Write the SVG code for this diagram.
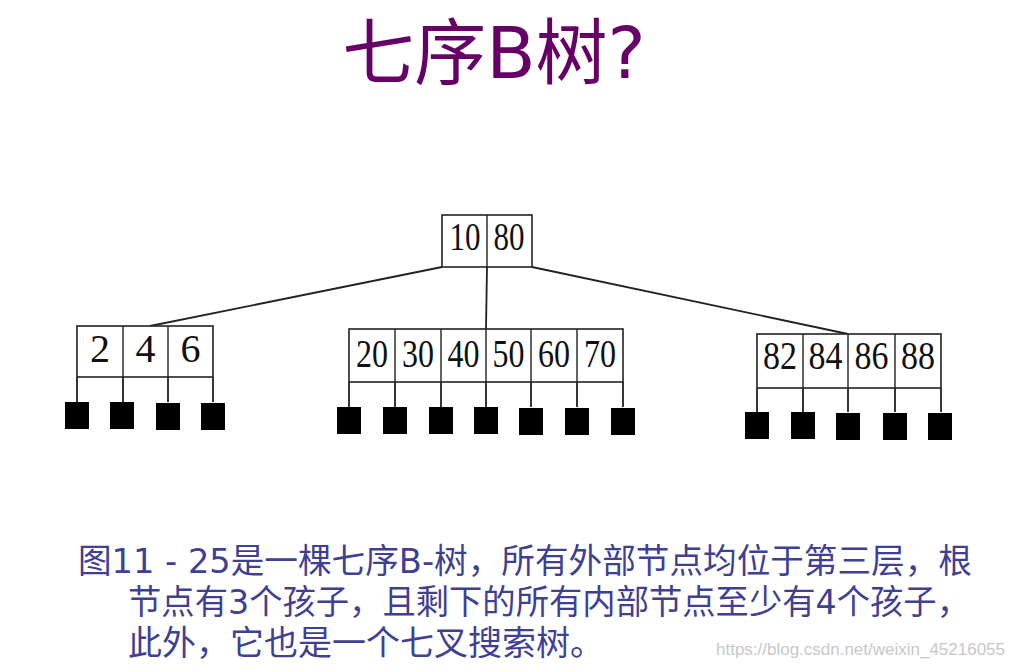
<svg xmlns="http://www.w3.org/2000/svg" width="1014" height="670" viewBox="0 0 1014 670">
<style>
.box{fill:#fff;stroke:#222;stroke-width:1.6}
.div{stroke:#222;stroke-width:1.4}
.num{font-family:"Liberation Serif",serif;font-size:40px;fill:#111;text-anchor:middle}
.leaf{fill:#000}
.edge{stroke:#222;stroke-width:1.8;fill:none}
.title{font-family:"DejaVu Sans","Noto Sans CJK SC",sans-serif;font-size:72px;fill:#660066;text-anchor:middle}
.cap{font-family:"DejaVu Sans","Noto Sans CJK SC",sans-serif;font-size:34px;fill:#3f3f94}
.wm{font-family:"Liberation Sans",sans-serif;font-size:16px;fill:#c8c8c8}
</style>
<rect width="1014" height="670" fill="#fff"/>
<text class="title" x="494" y="78">七序B树?</text>

<g id="connectors">
<line class="edge" x1="442" y1="267" x2="150" y2="326"/>
<line class="edge" x1="487" y1="267" x2="486" y2="329"/>
<line class="edge" x1="532" y1="267" x2="848" y2="334"/>
<path class="edge" d="M77 377V402M123 377V402M168 377V402M213 377V402"/>
<path class="edge" d="M349 382V407M395 382V407M441 382V407M486 382V407M531 382V407M577 382V407M623 382V407"/>
<path class="edge" d="M757 388V412M803 388V412M848 388V412M895 388V412M941 388V412"/>
</g>

<g id="root">
<rect class="box" x="442" y="215" width="90" height="52"/>
<line class="div" x1="487" y1="215" x2="487" y2="267"/>
<text class="num" x="465" y="250" textLength="31" lengthAdjust="spacingAndGlyphs">10</text>
<text class="num" x="509" y="250" textLength="31" lengthAdjust="spacingAndGlyphs">80</text>
</g>

<g id="node-left">
<rect class="box" x="77" y="326" width="136" height="51"/>
<line class="div" x1="123" y1="326" x2="123" y2="377"/>
<line class="div" x1="168" y1="326" x2="168" y2="377"/>
<text class="num" x="100" y="362">2</text>
<text class="num" x="145.5" y="362">4</text>
<text class="num" x="190.5" y="362">6</text>
</g>

<g id="node-middle">
<rect class="box" x="349" y="329" width="274" height="53"/>
<path class="div" d="M395 329V382M441 329V382M486 329V382M531 329V382M577 329V382"/>
<text class="num" x="372" y="367" textLength="32" lengthAdjust="spacingAndGlyphs">20</text>
<text class="num" x="418" y="367" textLength="32" lengthAdjust="spacingAndGlyphs">30</text>
<text class="num" x="463.5" y="367" textLength="32" lengthAdjust="spacingAndGlyphs">40</text>
<text class="num" x="508.5" y="367" textLength="32" lengthAdjust="spacingAndGlyphs">50</text>
<text class="num" x="554" y="367" textLength="32" lengthAdjust="spacingAndGlyphs">60</text>
<text class="num" x="600" y="367" textLength="32" lengthAdjust="spacingAndGlyphs">70</text>
</g>

<g id="node-right">
<rect class="box" x="757" y="334" width="184" height="54"/>
<path class="div" d="M803 334V388M848 334V388M895 334V388"/>
<text class="num" x="780" y="369" textLength="34" lengthAdjust="spacingAndGlyphs">82</text>
<text class="num" x="825.5" y="369" textLength="34" lengthAdjust="spacingAndGlyphs">84</text>
<text class="num" x="871.5" y="369" textLength="34" lengthAdjust="spacingAndGlyphs">86</text>
<text class="num" x="918" y="369" textLength="34" lengthAdjust="spacingAndGlyphs">88</text>
</g>

<g id="leaves-left">
<rect class="leaf" x="65" y="402" width="24" height="27"/>
<rect class="leaf" x="110" y="402" width="24" height="27"/>
<rect class="leaf" x="156" y="403" width="24" height="27"/>
<rect class="leaf" x="201" y="403" width="24" height="27"/>
</g>
<g id="leaves-middle">
<rect class="leaf" x="337" y="407" width="24" height="27"/>
<rect class="leaf" x="383" y="407" width="24" height="27"/>
<rect class="leaf" x="429" y="407" width="24" height="27"/>
<rect class="leaf" x="474" y="407" width="24" height="27"/>
<rect class="leaf" x="519" y="408" width="24" height="27"/>
<rect class="leaf" x="565" y="408" width="24" height="27"/>
<rect class="leaf" x="611" y="408" width="24" height="27"/>
</g>
<g id="leaves-right">
<rect class="leaf" x="745" y="412" width="24" height="27"/>
<rect class="leaf" x="791" y="412" width="24" height="27"/>
<rect class="leaf" x="836" y="413" width="24" height="27"/>
<rect class="leaf" x="883" y="413" width="24" height="27"/>
<rect class="leaf" x="928" y="413" width="24" height="27"/>
</g>

<g id="caption">
<text class="cap" x="78" y="573" textLength="894" lengthAdjust="spacingAndGlyphs">图11 - 25是一棵七序B-树，所有外部节点均位于第三层，根</text>
<text class="cap" x="128" y="614" textLength="842" lengthAdjust="spacingAndGlyphs">节点有3个孩子，且剩下的所有内部节点至少有4个孩子，</text>
<text class="cap" x="128" y="655">此外，它也是一个七叉搜索树。</text>
</g>
<text class="wm" x="716" y="655" textLength="289" lengthAdjust="spacingAndGlyphs">https://blog.csdn.net/weixin_45216055</text>
</svg>
